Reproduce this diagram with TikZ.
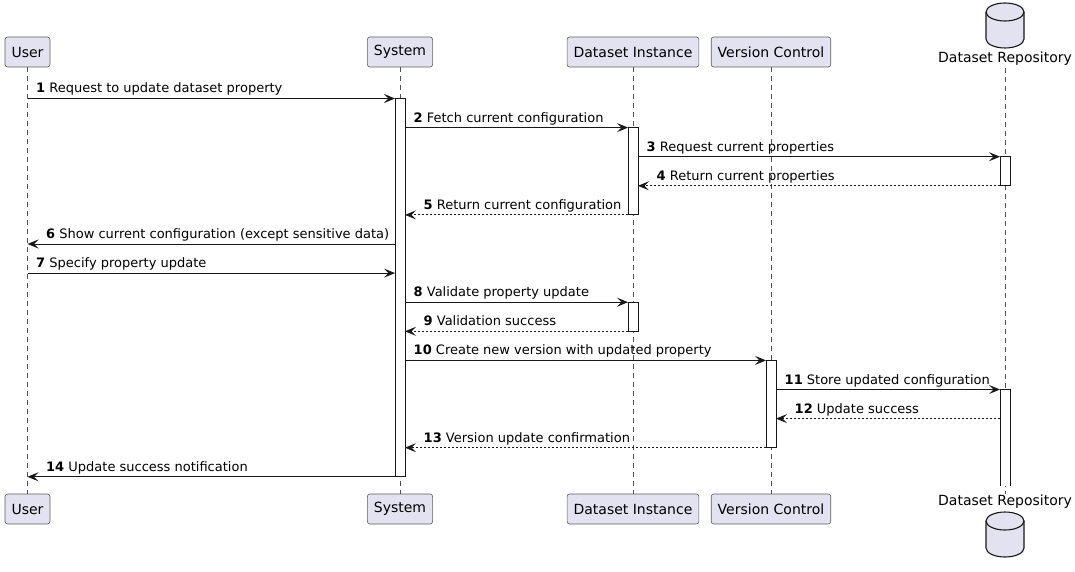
\documentclass[tikz,border=0pt]{standalone}
\usepackage{fontspec}
\setmainfont{DejaVu Sans}
\usetikzlibrary{arrows.meta}
\definecolor{partfill}{HTML}{E2E2F0}
\definecolor{ink}{HTML}{181818}
\tikzset{
  part/.style={draw=ink!70, line width=0.6pt, fill=partfill, rounded corners=2.5pt,
    minimum height=30pt, inner xsep=6.5pt, font=\fontsize{14}{16}\selectfont},
  lifeline/.style={draw=ink!75, line width=0.5pt, dash pattern=on 5pt off 4pt},
  actbar/.style={draw=ink, line width=0.9pt, fill=white},
  call/.style={draw=ink, line width=0.9pt, -{Stealth[length=11pt,width=9pt,inset=4.5pt]}},
  ret/.style={call, dash pattern=on 2pt off 2pt},
  lbl/.style={anchor=base west, inner sep=0pt, font=\fontsize{13}{15}\selectfont},
  dbtext/.style={inner sep=0pt, font=\fontsize{14}{16}\selectfont},
  db/.style={draw=ink, line width=1.1pt, fill=partfill},
}
% #1 name, #2 x from, #3 x to, #4 y, #5 style, #6 number, #7 text
\newcommand\seqmsg[7]{%
  \coordinate (#1a) at (#2,#4);
  \coordinate (#1b) at (#3,#4);
  \draw[#5] (#1a) -- (#1b);
  \pgfmathparse{#3>#2 ? #2+8.5 : #3+18.5}%
  \node[lbl] (#1l) at (\pgfmathresult,#4-5.5) {\textbf{#6} #7};
}
% y axis points down: angle 90 is downward on the page
\newcommand\dbicon[2]{% #1 center x, #2 top y
  \draw[db] (#1-19,#2+9) -- (#1-19,#2+36) arc[start angle=180,end angle=0,x radius=19,y radius=9]
    -- (#1+19,#2+9) arc[start angle=0,end angle=-180,x radius=19,y radius=9] -- cycle;
  \draw[db, fill=none] (#1-19,#2+9) arc[start angle=180,end angle=0,x radius=19,y radius=9];
}
\begin{document}
\begin{tikzpicture}[x=1pt,y=-1pt]
\useasboundingbox (0,0) rectangle (1075,572);
\def\U{27.5}\def\S{400}\def\D{633}\def\V{771}\def\R{1005}
% participants top
\node[part] (uT) at (\U,52) {User};
\node[part] (sT) at (\S,52) {System};
\node[part] (dT) at (\D,52) {Dataset Instance};
\node[part] (vT) at (\V,52) {Version Control};
\dbicon{\R}{3}
\node[dbtext] (rT) at (\R,59) {Dataset Repository};
% participants bottom
\node[part] (uB) at (\U,509) {User};
\node[part] (sB) at (\S,509) {System};
\node[part] (dB) at (\D,509) {Dataset Instance};
\node[part] (vB) at (\V,509) {Version Control};
\node[dbtext] (rB) at (\R,502) {Dataset Repository};
\dbicon{\R}{512}
% lifelines
\draw[lifeline] (uT.south) -- (uB.north);
\draw[lifeline] (sT.south) -- (sB.north);
\draw[lifeline] (dT.south) -- (dB.north);
\draw[lifeline] (vT.south) -- (vB.north);
\draw[lifeline] (\R,68) coordinate (rTl) -- (\R,494) coordinate (rBl);
% activation bars
\draw[actbar] (\S-5,98.5) rectangle (\S+5,476.8);
\draw[actbar] (\D-5,127.6) rectangle (\D+5,214.9);
\draw[actbar] (\D-5,302.2) rectangle (\D+5,331.3);
\draw[actbar] (\R-5,156.7) rectangle (\R+5,185.8);
\draw[actbar] (\V-5,360.4) rectangle (\V+5,447.7);
\fill[white] (\R-5,389.5) rectangle (\R+5,486);
\draw[actbar] (\R-5,486) -- (\R-5,389.5) -- (\R+5,389.5) -- (\R+5,486);
% messages
\seqmsg{m1}{\U}{\S-5}{98.5}{call}{1}{Request to update dataset property}
\seqmsg{m2}{\S+5}{\D-5}{127.6}{call}{2}{Fetch current configuration}
\seqmsg{m3}{\D+5}{\R-5}{156.7}{call}{3}{Request current properties}
\seqmsg{m4}{\R-5}{\D+5}{185.8}{ret}{4}{Return current properties}
\seqmsg{m5}{\D-5}{\S+5}{214.9}{ret}{5}{Return current configuration}
\seqmsg{m6}{\S-5}{\U}{244}{call}{6}{Show current configuration (except sensitive data)}
\seqmsg{m7}{\U}{\S-5}{273.1}{call}{7}{Specify property update}
\seqmsg{m8}{\S+5}{\D-5}{302.2}{call}{8}{Validate property update}
\seqmsg{m9}{\D-5}{\S+5}{331.3}{ret}{9}{Validation success}
\seqmsg{m10}{\S+5}{\V-5}{360.4}{call}{10}{Create new version with updated property}
\seqmsg{m11}{\V+5}{\R-5}{389.5}{call}{11}{Store updated configuration}
\seqmsg{m12}{\R-5}{\V+5}{418.6}{ret}{12}{Update success}
\seqmsg{m13}{\V-5}{\S+5}{447.7}{ret}{13}{Version update confirmation}
\seqmsg{m14}{\S-5}{\U}{476.8}{call}{14}{Update success notification}
\end{tikzpicture}
\end{document}
